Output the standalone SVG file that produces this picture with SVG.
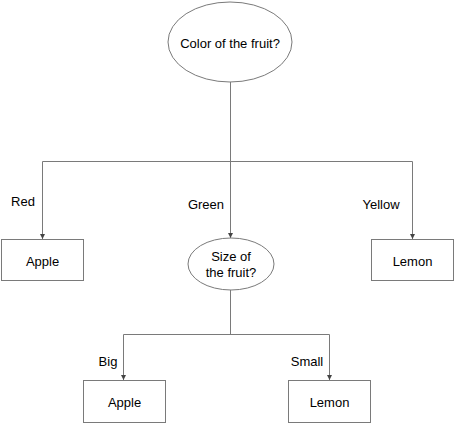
<svg xmlns="http://www.w3.org/2000/svg" width="456" height="441" viewBox="0 0 456 441">
<style>
.n{fill:#fff;stroke:#7a7a7a;stroke-width:1}
.t{font-family:"Liberation Sans",Arial,sans-serif;font-size:13px;fill:#000;text-anchor:middle;dominant-baseline:central}
.c{fill:none;stroke:#7a7a7a;stroke-width:1}
</style>
<defs>
<marker id="a" viewBox="0 0 6 6" refX="6" refY="3" markerWidth="5" markerHeight="5" markerUnits="userSpaceOnUse" orient="auto">
<path d="M0,0 L6,3 L0,6 Z" fill="#444"/>
</marker>
</defs>
<rect width="456" height="441" fill="#fff"/>
<g id="connectors">
<path class="c" d="M230.5,82 V161.5"/>
<path class="c" d="M42.5,161.5 H412.5"/>
<path class="c" d="M42.5,161.5 V239" marker-end="url(#a)"/>
<path class="c" d="M230.5,161.5 V238" marker-end="url(#a)"/>
<path class="c" d="M412.5,161.5 V239" marker-end="url(#a)"/>
<path class="c" d="M230.5,290 V334.5"/>
<path class="c" d="M123.5,334.5 H329.5"/>
<path class="c" d="M123.5,334.5 V380" marker-end="url(#a)"/>
<path class="c" d="M329.5,334.5 V380" marker-end="url(#a)"/>
</g>
<g id="labels">
<text class="t" x="23" y="201">Red</text>
<text class="t" x="206" y="204">Green</text>
<text class="t" x="381" y="204">Yellow</text>
<text class="t" x="108" y="361">Big</text>
<text class="t" x="307" y="361">Small</text>
</g>
<g id="color-q">
<ellipse class="n" cx="230" cy="42" rx="62" ry="40"/>
<text class="t" x="230" y="43">Color of the fruit?</text>
</g>
<g id="apple1">
<rect class="n" x="1.5" y="239.5" width="82" height="41"/>
<text class="t" x="42.5" y="261">Apple</text>
</g>
<g id="size-q">
<ellipse class="n" cx="231" cy="264" rx="43" ry="26"/>
<text class="t" x="231" y="256">Size of</text>
<text class="t" x="231" y="272">the fruit?</text>
</g>
<g id="lemon1">
<rect class="n" x="371.5" y="239.5" width="82" height="41"/>
<text class="t" x="412.5" y="261">Lemon</text>
</g>
<g id="apple2">
<rect class="n" x="83.5" y="380.5" width="82" height="42"/>
<text class="t" x="124.5" y="402">Apple</text>
</g>
<g id="lemon2">
<rect class="n" x="288.5" y="380.5" width="82" height="42"/>
<text class="t" x="329.5" y="402">Lemon</text>
</g>
</svg>
